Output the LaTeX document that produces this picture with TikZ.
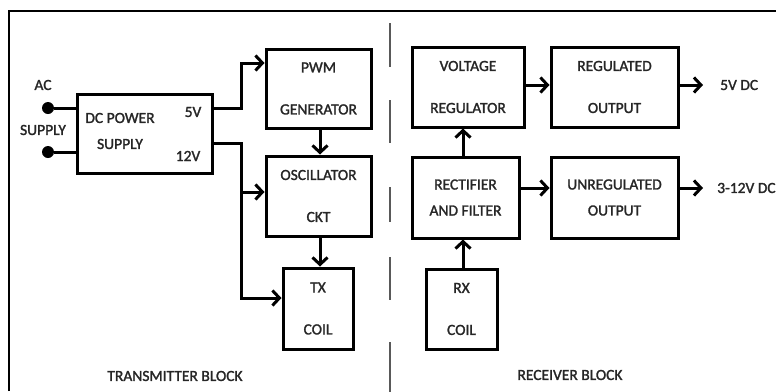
\documentclass[tikz,border=0pt]{standalone}
\usepackage{fontspec}
\setmainfont{Carlito}[FakeBold=1.6]
\usetikzlibrary{arrows.meta}
\begin{document}
\begin{tikzpicture}[x=1pt,y=-1pt,
  box/.style={draw,line width=3pt,inner sep=0pt,align=center,text=black!85,font=\fontsize{15.5}{42}\selectfont},
  boxs/.style={box,font=\fontsize{15.5}{26}\selectfont},
  lbl/.style={inner sep=0pt,text=black!85,font=\fontsize{15.5}{18}\selectfont},
  conn/.style={line width=3pt},
  arr/.style={line width=3pt,-{Straight Barb[length=7pt,width=15pt,line width=3pt]}},
  dot/.style={circle,fill=black,inner sep=0pt,minimum size=12pt}]
\useasboundingbox (0,0) rectangle (776,391);
% frame
\draw[line width=2pt] (9,391) -- (9,11) -- (777,11);
% divider
\foreach \a/\b in {23/67,100/143,187/222,257/300,342/392}
  \draw[line width=2pt,black!65] (390,\a) -- (390,\b);
% transmitter
\node[box,minimum width=135pt,minimum height=79pt] (dc) at (144.5,133.5) {};
\node[lbl] (dct1) at (120,118) {DC POWER};
\node[lbl] (dct2) at (120,144) {SUPPLY};
\node[lbl] (v5in) at (193,112) {5V};
\node[lbl] (v12in) at (188,156) {12V};
\node[lbl] (ac) at (43,85) {AC};
\node[lbl] (sup) at (43,130) {SUPPLY};
\node[dot] (d1) at (48,108) {};
\node[dot] (d2) at (48,152) {};
\draw[conn] (d1) -- (d1 -| dc.west);
\draw[conn] (d2) -- (d2 -| dc.west);
\node[box,minimum width=105pt,minimum height=79pt] (pwm) at (318.5,88.5) {PWM\\GENERATOR};
\node[box,minimum width=105pt,minimum height=80pt] (osc) at (318.5,196) {OSCILLATOR\\CKT};
\node[box,minimum width=70pt,minimum height=81pt] (tx) at (318,308.5) {TX\\COIL};
\draw[arr] ([yshift=25.5pt]dc.east) -- ++(28,0) |- ([yshift=25.5pt]pwm.west);
\coordinate (j) at ([xshift=28pt,yshift=-9.5pt]dc.east);
\draw[arr] ([yshift=-9.5pt]dc.east) -- (j) |- ([yshift=10.5pt]tx.west);
\draw[arr] ([yshift=4pt]j |- osc.west) -- ([yshift=4pt]osc.west);
\draw[arr] ([xshift=1.5pt]pwm.south) -- ([xshift=1.5pt]osc.north);
\draw[arr] ([xshift=1.5pt]osc.south) -- ([xshift=1.5pt]osc.south |- tx.north);
\node[lbl] (tb) at (175,376) {TRANSMITTER BLOCK};
% receiver
\node[box,minimum width=112pt,minimum height=80pt] (vr) at (468,87) {VOLTAGE\\REGULATOR};
\node[box,minimum width=127pt,minimum height=80pt] (ro) at (614.5,87) {REGULATED\\OUTPUT};
\node[boxs,minimum width=107pt,minimum height=81pt] (rf) at (465.5,197.5) {RECTIFIER\\AND FILTER};
\node[boxs,minimum width=127pt,minimum height=81pt] (uo) at (614.5,197.5) {UNREGULATED\\OUTPUT};
\node[box,minimum width=71pt,minimum height=80pt] (rx) at (461.5,309) {RX\\COIL};
\node[lbl,anchor=west] (o5) at (720,85) {5V DC};
\node[lbl,anchor=west] (o12) at (717,188) {3-12V DC};
\draw[arr] ([yshift=2pt]vr.east) -- ([yshift=2pt]ro.west);
\draw[arr] ([yshift=2pt]ro.east) -- ([yshift=2pt,xshift=-17pt]ro.east -| o5.west);
\draw[arr] ([yshift=9.5pt]rf.east) -- ([yshift=9.5pt]uo.west);
\draw[arr] ([yshift=9.5pt]uo.east) -- ([yshift=9.5pt,xshift=-14pt]uo.east -| o12.west);
\draw[arr] ([xshift=-2.5pt]rf.north) -- ([xshift=-2.5pt]rf.north |- vr.south);
\draw[arr] ([xshift=1.5pt]rx.north) -- ([xshift=1.5pt]rx.north |- rf.south);
\node[lbl] (rb) at (570,375) {RECEIVER BLOCK};
\end{tikzpicture}
\end{document}
